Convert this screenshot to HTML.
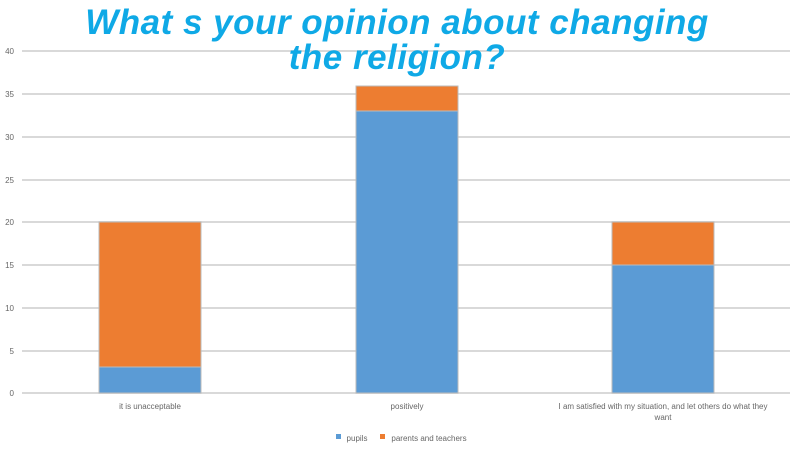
<!DOCTYPE html>
<html><head><meta charset="utf-8"><style>
body{margin:0;background:#fff;width:800px;height:450px;overflow:hidden;position:relative;font-family:"Liberation Sans",sans-serif}
.t{position:absolute;left:-3px;width:800px;text-align:center;color:#0fa9e6;font-weight:bold;font-style:italic;font-size:35px;line-height:35px;top:5px;letter-spacing:0.5px}
</style></head><body>
<svg width="800" height="450" style="position:absolute;left:0;top:0">
<g stroke="#d9d9d9" stroke-width="2">
<line x1="22" x2="790" y1="51" y2="51"/><line x1="22" x2="790" y1="94" y2="94"/>
<line x1="22" x2="790" y1="137" y2="137"/><line x1="22" x2="790" y1="180" y2="180"/>
<line x1="22" x2="790" y1="222" y2="222"/><line x1="22" x2="790" y1="265" y2="265"/>
<line x1="22" x2="790" y1="308" y2="308"/><line x1="22" x2="790" y1="351" y2="351"/>
<line x1="22" x2="790" y1="393" y2="393"/>
</g>
<g font-size="8" fill="#666" text-anchor="end" font-family="Liberation Sans">
<text x="14" y="54">40</text><text x="14" y="97">35</text><text x="14" y="140">30</text>
<text x="14" y="183">25</text><text x="14" y="225">20</text><text x="14" y="268">15</text>
<text x="14" y="311">10</text><text x="14" y="354">5</text><text x="14" y="396">0</text>
</g>
<g stroke="#bbb" stroke-width="1">
<rect x="99" y="367" width="102" height="26" fill="#5b9bd5"/>
<rect x="99" y="222" width="102" height="145" fill="#ed7d31"/>
<rect x="356" y="111" width="102" height="282" fill="#5b9bd5"/>
<rect x="356" y="86" width="102" height="25" fill="#ed7d31"/>
<rect x="612" y="265" width="102" height="128" fill="#5b9bd5"/>
<rect x="612" y="222" width="102" height="43" fill="#ed7d31"/>
</g>
<g font-size="8" fill="#666" text-anchor="middle" font-family="Liberation Sans">
<text x="150" y="409">it is unacceptable</text>
<text x="407" y="409">positively</text>
<text x="663" y="409">I am satisfied with my situation, and let others do what they</text>
<text x="663" y="420">want</text>
<text x="357" y="441">pupils</text>
<text x="429" y="441">parents and teachers</text>
</g>
<rect x="336" y="434" width="5" height="5" fill="#5b9bd5"/>
<rect x="380" y="434" width="5" height="5" fill="#ed7d31"/>
</svg>
<div class="t">What s your opinion about changing<br>the religion?</div>
</body></html>
